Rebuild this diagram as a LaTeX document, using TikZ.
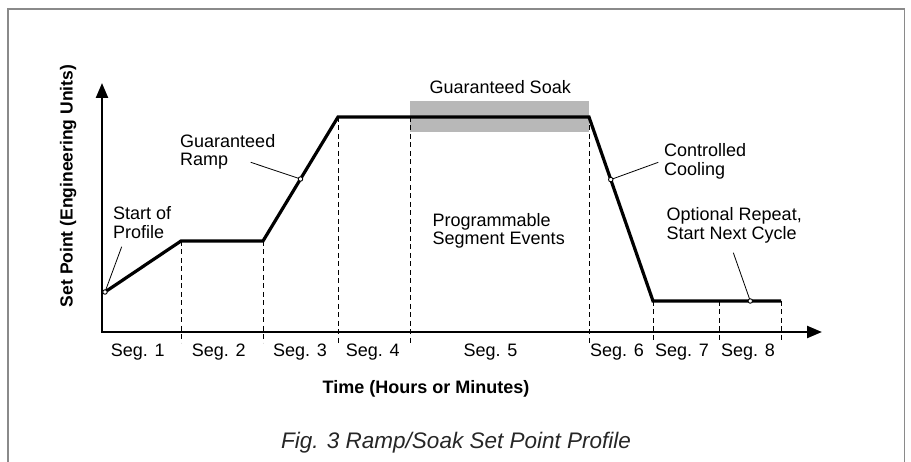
\documentclass[tikz,border=0pt]{standalone}
\usepackage{fontspec}
\setmainfont{Liberation Sans}
\usetikzlibrary{arrows.meta,calc}

\definecolor{soakgray}{HTML}{B8B8B8}
\definecolor{framegray}{HTML}{8A8A8A}

\begin{document}
\begin{tikzpicture}[x=1pt,y=-1pt,
  lbl/.style={font=\fontsize{18}{18.7}\selectfont, inner sep=0pt, align=left},
  seglbl/.style={font=\fontsize{18}{18.5}\selectfont, inner sep=0pt, anchor=base},
  axislbl/.style={font=\bfseries\fontsize{17.5}{20}\selectfont, inner sep=0pt, anchor=base},
  caption/.style={font=\itshape\fontsize{22.5}{24}\selectfont, inner sep=0pt, anchor=base, text=black!85},
  profile/.style={line width=3.2pt, line join=miter},
  axisline/.style={line width=2.4pt, line join=miter},
  guide/.style={dash pattern=on 5pt off 3.5pt, line width=0.8pt},
  leader/.style={line width=0.8pt},
  pin/.style={circle, draw, fill=white, line width=0.9pt, minimum size=4.5pt, inner sep=0pt}]

\useasboundingbox (0,0) rectangle (911,462);

% outer frame (open at the bottom)
\draw[framegray, line width=1.3pt] (8,462) -- (8,9) -- (904.5,9) -- (904.5,462);

% key points of the set point profile
\coordinate (o)  at (102,332);
\coordinate (ytip) at (102,83);
\coordinate (xtip) at (822,332);
\coordinate (p0) at (105,292);
\coordinate (p1) at (181,241);
\coordinate (p2) at (263,241);
\coordinate (p3) at (338,117);
\coordinate (s4) at (410,117);
\coordinate (p4) at (589,117);
\coordinate (p5) at (653,301);
\coordinate (s7) at (719,301);
\coordinate (p6) at (781,301);
\coordinate (gb) at (0,343);

% guaranteed soak band
\fill[soakgray] (410,101) rectangle (589,132);

% segment boundaries
\foreach \c in {p1,p2,p3,s4,p4,p5,s7,p6}
  \draw[guide] (\c) -- (\c |- gb);

% axes
\draw[axisline, {Triangle[length=15pt,width=12pt]}-{Triangle[length=15pt,width=12pt]}]
  (ytip) -- (o) -- (xtip);

% profile
\draw[profile] (p0) -- (p1) -- (p2) -- (p3) -- (p4) -- (p5) -- (p6);

% annotations (anchored on the baseline of their last line)
\node[lbl, anchor=base west] (start) at (113,238.5) {Start of\\Profile};
\node[lbl, anchor=base west] (ramp) at (180,166) {Guaranteed\\Ramp};
\node[lbl, anchor=base west] (soak) at (429.5,94) {Guaranteed Soak};
\node[lbl, anchor=base west] (events) at (432.5,245) {Programmable\\Segment Events};
\node[lbl, anchor=base west] (cool) at (664,175.5) {Controlled\\Cooling};
\node[lbl, anchor=base west] (repeat) at (666.5,239.5) {Optional Repeat,\\Start Next Cycle};

\coordinate (lstart) at (121.7,246.7);
\coordinate (lramp) at (250.7,162.3);
\coordinate (lcool) at (658.3,162.3);
\coordinate (lrep) at (733.3,252.7);
\coordinate (qramp) at ($(p2)!0.5!(p3)$);
\coordinate (qcool) at ($(p4)!0.34!(p5)$);
\coordinate (qrep) at ($(p5)!0.76!(p6)$);

\draw[leader] (lstart) -- (p0);
\draw[leader] (lramp) -- (qramp);
\draw[leader] (lcool) -- (qcool);
\draw[leader] (lrep) -- (qrep);
\node[pin] (d0) at (p0) {};
\node[pin] (d1) at (qramp) {};
\node[pin] (d2) at (qcool) {};
\node[pin] (d3) at (qrep) {};

% segment labels
\node[seglbl] (seg1) at (137.7,356.5) {Seg. 1};
\node[seglbl] (seg2) at (218.7,356.5) {Seg. 2};
\node[seglbl] (seg3) at (300,356.5) {Seg. 3};
\node[seglbl] (seg4) at (372.7,356.5) {Seg. 4};
\node[seglbl] (seg5) at (490.5,356.5) {Seg. 5};
\node[seglbl] (seg6) at (617,356.5) {Seg. 6};
\node[seglbl] (seg7) at (682,356.5) {Seg. 7};
\node[seglbl] (seg8) at (748,356.5) {Seg. 8};

% axis titles and caption
\node[axislbl, font=\bfseries\fontsize{18}{20}\selectfont] (xtitle) at (426,394) {Time (Hours or Minutes)};
\node[axislbl, rotate=90] (ytitle) at (72.5,186) {Set Point (Engineering Units)};
\node[caption] (cap) at (456,449) {Fig. 3 Ramp/Soak Set Point Profile};
\end{tikzpicture}
\end{document}
